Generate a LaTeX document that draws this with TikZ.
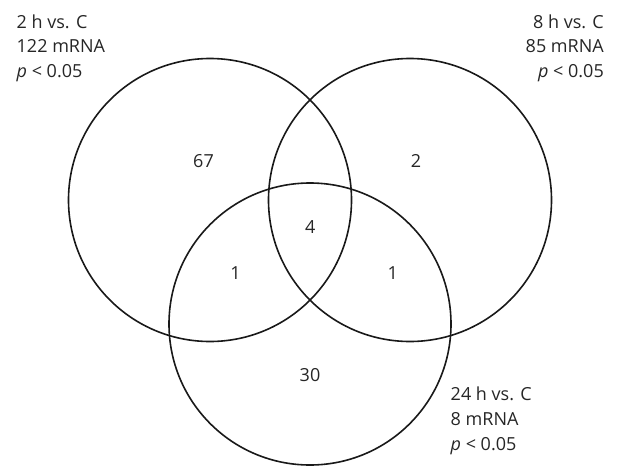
\documentclass[tikz,border=0pt]{standalone}
\usepackage{fontspec}
\setmainfont{Open Sans}
\begin{document}
\begin{tikzpicture}[x=1pt,y=-1pt,
  setcircle/.style={draw=black!90, line width=1.6pt},
  count/.style={font=\fontsize{18}{21}\selectfont, text=black!85, inner sep=0pt},
  setlabel/.style={font=\fontsize{18}{24.6}\selectfont, text=black!85, inner sep=0pt}]
  \useasboundingbox (0,0) rectangle (618,466);
  % the three sets
  \draw[setcircle] (210,200) circle[radius=141.5];
  \draw[setcircle] (410,200) circle[radius=141.5];
  \draw[setcircle] (310,324) circle[radius=141];
  % region counts
  \node[count] (a) at (203.5,160.7) {67};
  \node[count] (b) at (416,160.7) {2};
  \node[count] (abc) at (310.3,226.7) {4};
  \node[count] (ac) at (235.5,273) {1};
  \node[count] (bc) at (392.8,273) {1};
  \node[count] (c) at (310,375) {30};
  % set captions (anchored on the baseline of their last line)
  \node[setlabel, anchor=base west, align=left] (la) at (16.5,77.5)
    {2 h vs. C\\122 mRNA\\\textit{p} < 0.05};
  \node[setlabel, anchor=base east, align=right] (lb) at (604,77.5)
    {8 h vs. C\\85 mRNA\\\textit{p} < 0.05};
  \node[setlabel, anchor=base west, align=left] (lc) at (450.5,450)
    {24 h vs. C\\8 mRNA\\\textit{p} < 0.05};
\end{tikzpicture}
\end{document}
